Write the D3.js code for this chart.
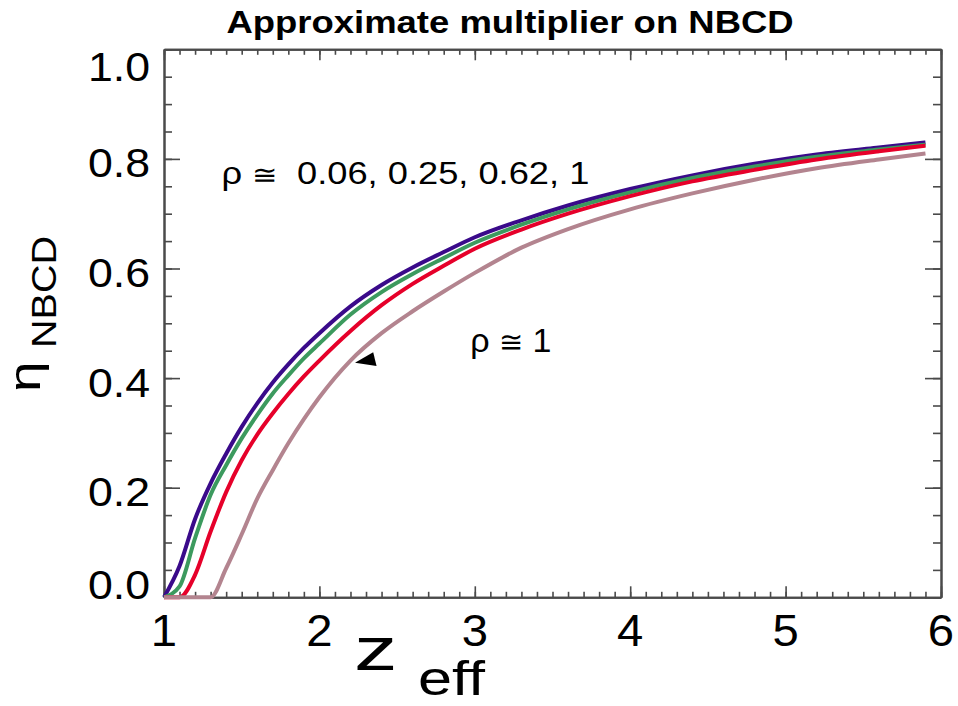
<!DOCTYPE html>
<html>
<head>
<meta charset="utf-8">
<script src="https://cdn.jsdelivr.net/npm/d3@7/dist/d3.min.js"></script>
<style>
  body { margin: 0; background: #fff; }
  text { font-family: "Liberation Sans", Arial, Helvetica, sans-serif; white-space: pre; }
</style>
</head>
<body>
<div id="chart"></div>
<script>
// values
var zeff = [1.0, 1.1, 1.2, 1.3, 1.4, 1.5, 1.6, 1.7, 1.8, 1.9, 2.0, 2.2, 2.4, 2.6, 2.8, 3.0, 3.3, 3.6, 4.0, 4.4, 4.8, 5.2, 5.6, 5.9];
var etaRho006 = [0, 0.057, 0.143, 0.208, 0.262, 0.311, 0.354, 0.392, 0.425, 0.455, 0.482, 0.531, 0.570, 0.602, 0.630, 0.657, 0.688, 0.715, 0.745, 0.770, 0.791, 0.808, 0.821, 0.830];
var etaRho025 = [0, 0.020, 0.108, 0.187, 0.241, 0.290, 0.333, 0.372, 0.405, 0.436, 0.463, 0.516, 0.557, 0.590, 0.619, 0.647, 0.680, 0.708, 0.739, 0.765, 0.786, 0.804, 0.817, 0.826];
var etaRho062 = [0, 0, 0.041, 0.120, 0.192, 0.250, 0.297, 0.336, 0.371, 0.403, 0.432, 0.486, 0.533, 0.572, 0.605, 0.636, 0.671, 0.700, 0.732, 0.759, 0.780, 0.799, 0.814, 0.824];
var etaRho1   = [0, 0, 0, 0, 0.053, 0.115, 0.180, 0.232, 0.281, 0.325, 0.365, 0.432, 0.482, 0.522, 0.558, 0.592, 0.638, 0.672, 0.708, 0.737, 0.762, 0.783, 0.799, 0.810];

var seriesNames = ["0.06", "0.25", "0.62", "1"];
var seriesColors = ["#3a0a8a", "#3c9a5e", "#e6002a", "#b3848f"];

var xMajor = [1, 2, 3, 4, 5, 6];
var yMajor = [0, 0.2, 0.4, 0.6, 0.8, 1.0];

// arrow head near the rho = 1 curve (data units)
var arrowHead = [[2.229, 0.428], [2.346, 0.447], [2.368, 0.422]];

var width = 958, height = 706;
var margin = {top: 49.3, right: 17, bottom: 108.7, left: 164};
var plotW = width - margin.left - margin.right,
    plotH = height - margin.top - margin.bottom;

var x = d3.scaleLinear().domain([1, 6]).range([margin.left, margin.left + plotW]);
var y = d3.scaleLinear().domain([0, 1]).range([margin.top + plotH, margin.top]);

var svg = d3.select("#chart").append("svg")
    .attr("width", width)
    .attr("height", height)
    .style("background", "#fff");

// the reference font runs a little wider than Liberation Sans
function wideText(px, py, sx) {
  return svg.append("text")
    .attr("transform", "translate(" + px + "," + py + ") scale(" + sx + ",1)");
}

// minor tick values
var xMinor = d3.range(1, 6.0001, 0.1).map(function(d) { return +d.toFixed(1); });
var yMinor = d3.range(0, 1.0001, 0.05).map(function(d) { return +d.toFixed(2); });

var axisColor = "#4a4a4a";

function styleAxis(g) {
  g.selectAll("path").attr("stroke", axisColor).attr("stroke-width", 2);
  g.selectAll("line").attr("stroke", axisColor).attr("stroke-width", 1.6);
  g.selectAll("text").remove();
}

// bottom / top axes
svg.append("g").attr("transform", "translate(0," + y(0) + ")")
  .call(d3.axisBottom(x).tickValues(xMinor).tickSize(-5.5).tickSizeOuter(0).tickFormat(""))
  .call(styleAxis);
svg.append("g").attr("transform", "translate(0," + y(0) + ")")
  .call(d3.axisBottom(x).tickValues(xMajor).tickSize(-11).tickSizeOuter(0).tickFormat(""))
  .call(styleAxis);
svg.append("g").attr("transform", "translate(0," + y(1) + ")")
  .call(d3.axisTop(x).tickValues(xMinor).tickSize(-5.5).tickSizeOuter(0).tickFormat(""))
  .call(styleAxis);
svg.append("g").attr("transform", "translate(0," + y(1) + ")")
  .call(d3.axisTop(x).tickValues(xMajor).tickSize(-11).tickSizeOuter(0).tickFormat(""))
  .call(styleAxis);

// left / right axes
svg.append("g").attr("transform", "translate(" + x(1) + ",0)")
  .call(d3.axisLeft(y).tickValues(yMinor).tickSize(-8).tickSizeOuter(0).tickFormat(""))
  .call(styleAxis);
svg.append("g").attr("transform", "translate(" + x(1) + ",0)")
  .call(d3.axisLeft(y).tickValues(yMajor).tickSize(-16).tickSizeOuter(0).tickFormat(""))
  .call(styleAxis);
svg.append("g").attr("transform", "translate(" + x(6) + ",0)")
  .call(d3.axisRight(y).tickValues(yMinor).tickSize(-8).tickSizeOuter(0).tickFormat(""))
  .call(styleAxis);
svg.append("g").attr("transform", "translate(" + x(6) + ",0)")
  .call(d3.axisRight(y).tickValues(yMajor).tickSize(-16).tickSizeOuter(0).tickFormat(""))
  .call(styleAxis);

// tick labels
xMajor.forEach(function(d) {
  wideText(x(d), y(0) + 48.5, 1.05)
    .attr("text-anchor", "middle")
    .style("font-size", "45px")
    .text(d);
});

yMajor.forEach(function(d) {
  var p = y(d) + 18.5;
  // end labels are pulled inside the frame
  if (d === 1) p += 13.5;
  if (d === 0) p -= 17;
  wideText(x(1) - 14, p, 1.09)
    .attr("text-anchor", "end")
    .style("font-size", "41px")
    .text(d3.format(".1f")(d));
});

// curves
var series = [etaRho006, etaRho025, etaRho062, etaRho1];
var line = d3.line()
  .x(function(d) { return x(d[0]); })
  .y(function(d) { return y(d[1]); })
  .curve(d3.curveMonotoneX);

series.forEach(function(vals, i) {
  svg.append("path")
    .datum(zeff.map(function(z, k) { return [z, vals[k]]; }))
    .attr("fill", "none")
    .attr("stroke", seriesColors[i])
    .attr("stroke-width", 4)
    .attr("stroke-linejoin", "round")
    .attr("d", line);
});

// arrow head
svg.append("path")
  .attr("d", "M" + arrowHead.map(function(p) { return x(p[0]) + "," + y(p[1]); }).join("L") + "Z")
  .attr("fill", "#000");

// annotations
var a1 = wideText(x(1.37), y(0.755), 1.17).style("font-size", "31px");
a1.append("tspan").text("\u03c1 ");
a1.append("tspan").style("font-size", "26px").text("\u2245");
a1.append("tspan").text("  " + seriesNames.join(", "));

var a2 = wideText(x(2.97), y(0.448), 1.0).style("font-size", "34px");
a2.append("tspan").text("\u03c1 ");
a2.append("tspan").style("font-size", "29px").text("\u2245");
a2.append("tspan").text(" 1");

// title
wideText(510, 33, 1.14)
  .attr("text-anchor", "middle")
  .style("font-size", "32px")
  .style("font-weight", "bold")
  .text("Approximate multiplier on NBCD");

// x axis title: z with subscript eff
wideText(354, 670, 1.4).style("font-size", "62px").text("z");
wideText(418, 695, 1.25).style("font-size", "49px").text("eff");

// y axis title: eta with subscript NBCD
svg.append("text")
  .attr("transform", "translate(40,392) rotate(-90) scale(1.25,1)")
  .style("font-size", "44px")
  .text("\u03b7");
svg.append("text")
  .attr("transform", "translate(56,348) rotate(-90) scale(1.1,1)")
  .style("font-size", "36px")
  .text("NBCD");
</script>
</body>
</html>
